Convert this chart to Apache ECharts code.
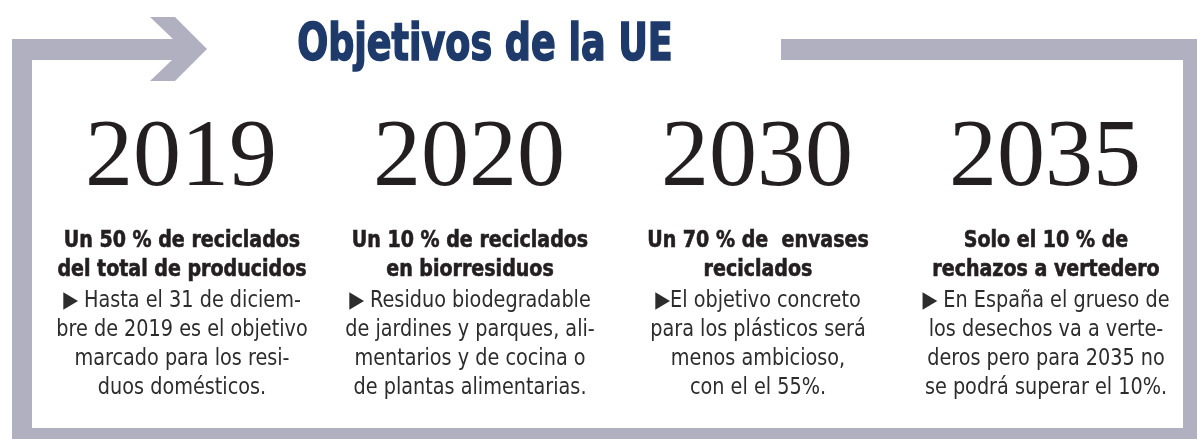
<!DOCTYPE html>
<html>
<head>
<meta charset="utf-8">
<script src="https://cdn.jsdelivr.net/npm/echarts@6/dist/echarts.min.js"></script>
<style>
html,body{margin:0;padding:0;background:#fff;}
#chart{width:1197px;height:439px;}
</style>
</head>
<body>
<div id="chart"></div>
<script>
var titleText = 'Objetivos de la UE';
var years = ['2019', '2020', '2030', '2035'];
var headlines = [
  'Un 50 % de reciclados\ndel total de producidos',
  'Un 10 % de reciclados\nen biorresiduos',
  'Un 70 % de  envases\nreciclados',
  'Solo el 10 % de\nrechazos a vertedero'
];
var bodies = [
  '\u25B6 Hasta el 31 de diciem-\nbre de 2019 es el objetivo\nmarcado para los resi-\nduos domésticos.',
  '\u25B6 Residuo biodegradable\nde jardines y parques, ali-\nmentarios y de cocina o\nde plantas alimentarias.',
  '\u25B6El objetivo concreto\npara los plásticos será\nmenos ambicioso,\ncon el el 55%.',
  '\u25B6 En España el grueso de\nlos desechos va a verte-\nderos pero para 2035 no\nse podrá superar el 10%.'
];

var FRAME = '#b1b0c0';
var NARROW = '"DejaVu Sans Condensed", "Roboto", sans-serif';

var chart = echarts.init(document.getElementById('chart'), null, {renderer: 'canvas'});

var option = {
  backgroundColor: '#ffffff',
  animation: false,
  grid: {left: 38, right: 7, top: 100, bottom: 20},
  xAxis: {type: 'category', data: years, show: false},
  yAxis: {type: 'value', min: 0, max: 1, show: false},
  graphic: [
    {
      type: 'polygon',
      shape: {points: [[12,39],[173,39],[150,17],[175,17],[207,49],[175,81],[150,81],[172,60],[32,60],[32,439],[12,439]]},
      style: {fill: FRAME}
    },
    {type: 'rect', shape: {x: 781, y: 39, width: 416, height: 21}, style: {fill: FRAME}},
    {type: 'rect', shape: {x: 1183, y: 39, width: 14, height: 400}, style: {fill: FRAME}},
    {type: 'rect', shape: {x: 12, y: 428, width: 1185, height: 11}, style: {fill: FRAME}},
    {
      type: 'text',
      x: 485, y: 46,
      scaleX: 0.78,
      style: {
        text: titleText,
        fontFamily: NARROW,
        fontWeight: 'bold',
        fontSize: 52,
        fill: '#1d3a6b',
        stroke: '#1d3a6b',
        lineWidth: 1.6,
        align: 'center',
        verticalAlign: 'middle'
      }
    }
  ],
  series: [{
    type: 'custom',
    coordinateSystem: 'cartesian2d',
    data: years.map(function (y, i) { return [i, 0]; }),
    renderItem: function (params, api) {
      var i = params.dataIndex;
      var x = api.coord([api.value(0), 0])[0];
      return {
        type: 'group',
        children: [
          {
            type: 'text',
            x: x - 1, y: 160,
            style: {
              text: years[i],
              fontFamily: '"Liberation Serif", "DejaVu Serif", serif',
              fontSize: 96,
              fill: '#231f20',
              align: 'center',
              verticalAlign: 'middle'
            }
          },
          {
            type: 'text',
            x: x, y: 226.5,
            scaleX: 0.92,
            style: {
              text: headlines[i],
              fontFamily: NARROW,
              fontWeight: 'bold',
              fontSize: 23,
              lineHeight: 29,
              fill: '#231f20',
              stroke: '#231f20',
              lineWidth: 0.6,
              align: 'center',
              verticalAlign: 'top'
            }
          },
          {
            type: 'text',
            x: x, y: 286.5,
            scaleX: 0.93,
            style: {
              text: bodies[i],
              fontFamily: NARROW,
              fontSize: 23,
              lineHeight: 29,
              fill: '#2c2c2c',
              align: 'center',
              verticalAlign: 'top'
            }
          }
        ]
      };
    }
  }]
};
chart.setOption(option);
</script>
</body>
</html>
